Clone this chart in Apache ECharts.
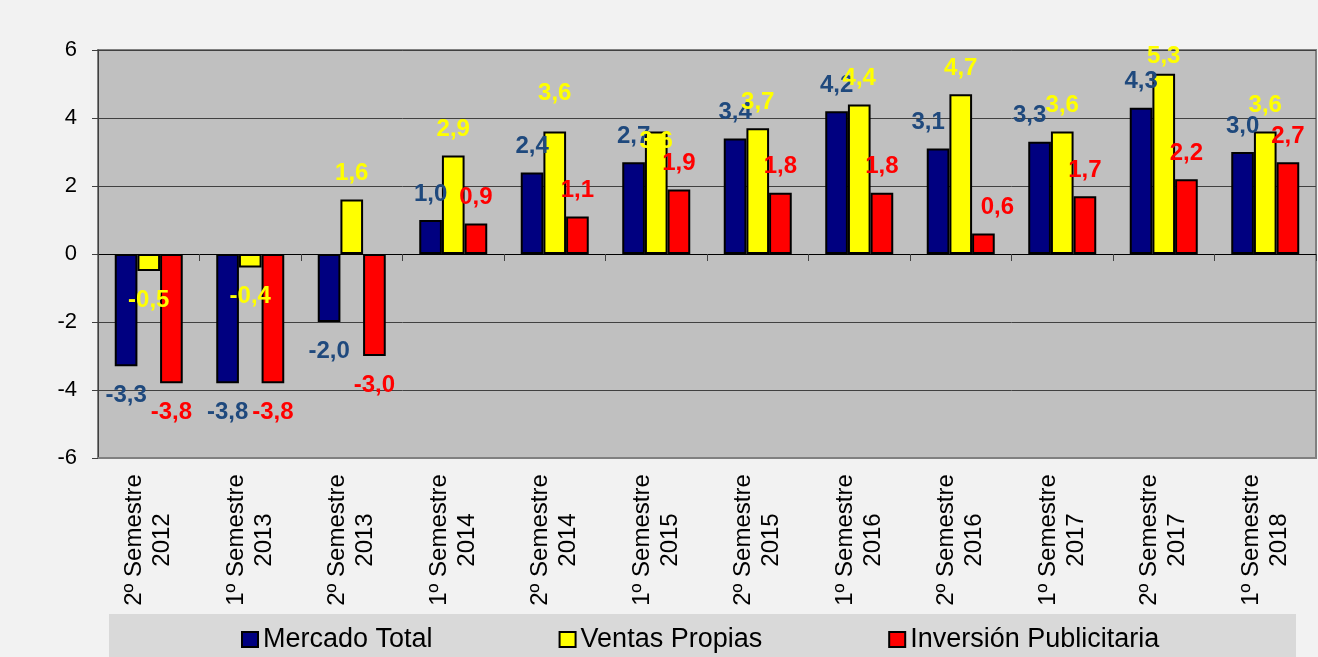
<!DOCTYPE html>
<html>
<head>
<meta charset="utf-8">
<title>Mercado Total / Ventas Propias / Inversión Publicitaria</title>
<script src="https://cdn.jsdelivr.net/npm/echarts@6/dist/echarts.min.js"></script>
<style>
  html, body { margin: 0; padding: 0; background: #f2f2f2; }
  #main { width: 1318px; height: 657px; }
</style>
</head>
<body>
<div id="main"></div>
<script>
// datos del gráfico
var categorias = ['2º Semestre\n2012', '1º Semestre\n2013', '2º Semestre\n2013', '1º Semestre\n2014',
    '2º Semestre\n2014', '1º Semestre\n2015', '2º Semestre\n2015', '1º Semestre\n2016',
    '2º Semestre\n2016', '1º Semestre\n2017', '2º Semestre\n2017', '1º Semestre\n2018'];
var mercadoTotal = [-3.3, -3.8, -2.0, 1.0, 2.4, 2.7, 3.4, 4.2, 3.1, 3.3, 4.3, 3.0];
var ventasPropias = [-0.5, -0.4, 1.6, 2.9, 3.6, 3.6, 3.7, 4.4, 4.7, 3.6, 5.3, 3.6];
var inversionPub = [-3.8, -3.8, -3.0, 0.9, 1.1, 1.9, 1.8, 1.8, 0.6, 1.7, 2.2, 2.7];
var yTicks = [-6, -4, -2, 0, 2, 4, 6];

// ajustes de etiquetas movidas a mano en el original
var ajustes = {
    mercado: { 8: [-10, 0], 9: [-10, 0] },
    ventas: { 4: [0, -12], 5: [0, 36], 10: [0, 9] },
    inversion: { 8: [14, 0] }
};

var fuente = 'Arial, "Liberation Sans", sans-serif';

function coma(v) {
    return v.toFixed(1).replace('.', ',');
}

function puntos(valores, ajuste) {
    return valores.map(function(v, i) {
        return {
            value: v,
            label: {
                position: v < 0 ? 'bottom' : 'top',
                distance: v < 0 ? 17 : 14,
                offset: ajuste[i] || [0, 0]
            }
        };
    });
}

function serie(nombre, valores, color, colorTexto, ajuste) {
    return {
        name: nombre,
        type: 'bar',
        data: puntos(valores, ajuste),
        barGap: '0%',
        barCategoryGap: '33%',
        itemStyle: { color: color, borderColor: '#000', borderWidth: 2 },
        label: {
            show: true,
            color: colorTexto,
            fontSize: 24,
            fontWeight: 'bold',
            fontFamily: fuente,
            formatter: function(p) { return coma(p.value); }
        }
    };
}

var myChart = echarts.init(document.getElementById('main'));

var option = {
    animation: false,
    backgroundColor: '#f2f2f2',
    textStyle: { fontFamily: fuente },
    graphic: [{
        type: 'rect',
        left: 109,
        top: 614,
        z: 0,
        shape: { width: 1187, height: 45 },
        style: { fill: '#d9d9d9' }
    }],
    legend: {
        left: 236,
        top: 621,
        itemWidth: 16,
        itemHeight: 15,
        itemGap: 126,
        icon: 'rect',
        textStyle: { fontSize: 27, color: '#000', fontFamily: fuente },
        data: ['Mercado Total', 'Ventas Propias', 'Inversión Publicitaria']
    },
    grid: {
        left: 98,
        right: 2,
        top: 50,
        bottom: 199,
        show: true,
        backgroundColor: '#c0c0c0',
        borderColor: '#808080',
        borderWidth: 2
    },
    xAxis: [{
        type: 'category',
        data: categorias,
        position: 'bottom',
        axisLine: { onZero: false, lineStyle: { color: '#808080', width: 2 } },
        axisTick: { show: false },
        splitLine: { show: false },
        axisLabel: {
            interval: 0,
            rotate: 90,
            align: 'center',
            verticalAlign: 'middle',
            margin: 82,
            fontSize: 24,
            lineHeight: 28,
            color: '#000',
            fontFamily: fuente
        }
    }, {
        type: 'category',
        data: categorias,
        position: 'top',
        axisLine: { onZero: true, lineStyle: { color: '#000', width: 1 } },
        axisTick: { show: true, inside: true, length: 7, lineStyle: { color: '#404040' } },
        axisLabel: { show: false },
        splitLine: { show: false }
    }],
    yAxis: {
        type: 'value',
        min: yTicks[0],
        max: yTicks[yTicks.length - 1],
        interval: 2,
        axisLine: { show: true, lineStyle: { color: '#404040', width: 1 } },
        axisTick: { show: true, length: 6, lineStyle: { color: '#404040' } },
        splitLine: { show: true, lineStyle: { color: '#404040', width: 1 } },
        axisLabel: { fontSize: 22, margin: 21, color: '#000', fontFamily: fuente }
    },
    series: [
        serie('Mercado Total', mercadoTotal, '#000080', '#1F497D', ajustes.mercado),
        serie('Ventas Propias', ventasPropias, '#ffff00', '#ffff00', ajustes.ventas),
        serie('Inversión Publicitaria', inversionPub, '#ff0000', '#ff0000', ajustes.inversion)
    ]
};

myChart.setOption(option);
</script>
</body>
</html>
